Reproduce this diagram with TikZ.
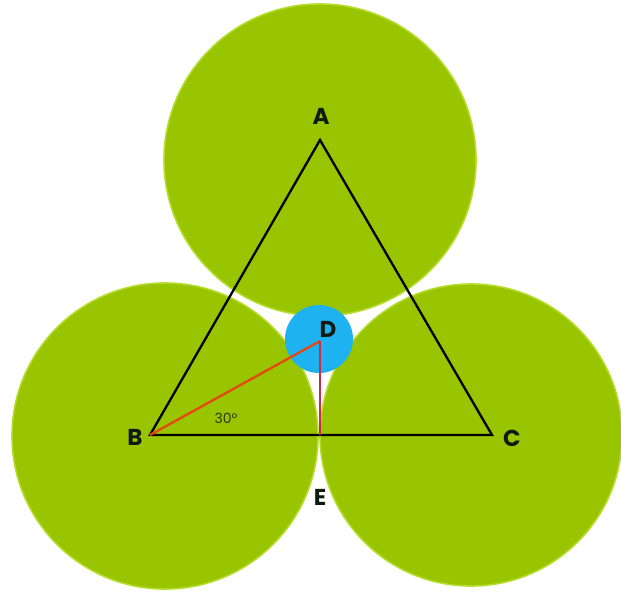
\documentclass[tikz,border=0pt]{standalone}
\usepackage{fontspec}
\setmainfont{Poppins}
\begin{document}
\begin{tikzpicture}[x=1pt,y=-1pt,
  ball/.style={fill=ballgreen,draw=rimgreen,line width=1.6pt},
  smallball/.style={fill=ballblue,draw=none},
  edge/.style={draw=black,line width=2.3pt,line join=miter},
  redline/.style={draw=linered,line width=2.3pt},
  crimsonline/.style={draw=linecrimson,line width=1.6pt},
  lbl/.style={font=\fontsize{23}{23}\selectfont\bfseries,text=labelink,inner sep=0pt},
  anglbl/.style={font=\fontsize{14}{14}\selectfont,text=anglecolor,inner sep=0pt}]
\definecolor{ballgreen}{HTML}{99C400}
\definecolor{rimgreen}{HTML}{B4DC28}
\definecolor{ballblue}{HTML}{1EB2F0}
\definecolor{linered}{HTML}{E4480C}
\definecolor{linecrimson}{HTML}{D0284A}
\definecolor{labelink}{HTML}{101A10}
\definecolor{anglecolor}{HTML}{2E3A0C}
\useasboundingbox[fill=white] (0,0) rectangle (621,592);
% balls
\path[ball] (165,436) circle[radius=153];
\path[ball] (471,435) circle[radius=151];
\path[ball] (320,160) circle[radius=156];
\path[smallball] (319,339) circle[radius=34];
% vertices
\coordinate (A) at (320,140);
\coordinate (B) at (150,435);
\coordinate (C) at (492,435);
\coordinate (D) at (320,341);
\coordinate (E) at (320,435);
% triangle and radii
\draw[edge] (A) -- (B) -- (C) -- cycle;
\draw[redline] (B) -- (D);
\draw[crimsonline] (D) -- (E);
% labels
\node[lbl] (lA) at (321,116) {A};
\node[lbl] (lB) at (135,437) {B};
\node[lbl] (lC) at (512,438) {C};
\node[lbl] (lD) at (328,329) {D};
\node[lbl] (lE) at (320,497) {E};
\node[anglbl] (ang) at (226,418) {30°};
\end{tikzpicture}
\end{document}
